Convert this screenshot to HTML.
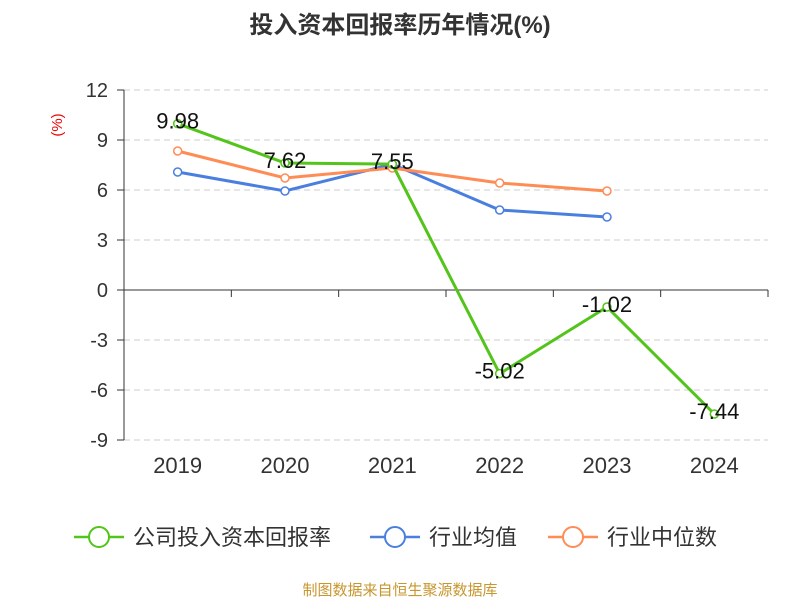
<!DOCTYPE html>
<html><head><meta charset="utf-8"><style>
body{margin:0;background:#fff;}
text{font-family:"Liberation Sans","Noto Sans CJK SC",sans-serif;}
</style></head><body>
<svg width="800" height="600" viewBox="0 0 800 600" id="svg">
<text x="400" y="33" text-anchor="middle" font-size="24" font-weight="bold" fill="#333">投入资本回报率历年情况(%)</text>
<text x="62" y="125" text-anchor="middle" font-size="15" fill="#e00" transform="rotate(-90 62 125)">(%)</text>
<g id="grid"></g><g id="axes"></g><g id="series"></g><g id="labels"></g>
<g>
<g><line x1="74" y1="537" x2="124" y2="537" stroke="#52c41a" stroke-width="2.5"/><circle cx="99" cy="537" r="10" fill="#fff" stroke="#52c41a" stroke-width="2"/><text x="133" y="545" font-size="22" fill="#333">公司投入资本回报率</text></g>
<g><line x1="370" y1="537" x2="420" y2="537" stroke="#4a7fe0" stroke-width="2.5"/><circle cx="395" cy="537" r="10" fill="#fff" stroke="#4a7fe0" stroke-width="2"/><text x="429" y="545" font-size="22" fill="#333">行业均值</text></g>
<g><line x1="548" y1="537" x2="598" y2="537" stroke="#ff8c55" stroke-width="2.5"/><circle cx="573" cy="537" r="10" fill="#fff" stroke="#ff8c55" stroke-width="2"/><text x="607" y="545" font-size="22" fill="#333">行业中位数</text></g>
</g>
<text x="400" y="595" text-anchor="middle" font-size="15" fill="#c8962e">制图数据来自恒生聚源数据库</text>
</svg>
<script>
const categories=["2019","2020","2021","2022","2023","2024"];
const companyValues=[9.98,7.62,7.55,-5.02,-1.02,-7.44];
const avgValues=[7.08,5.94,7.55,4.8,4.38];
const medianValues=[8.34,6.72,7.32,6.42,5.94];
const yTicks=[12,9,6,3,0,-3,-6,-9];
const NS="http://www.w3.org/2000/svg";
const L=124,R=768,T=90,B=440,yMin=-9,yMax=12;
const bw=(R-L)/categories.length;
const xs=i=>L+bw*(i+0.5);
const ys=v=>T+(yMax-v)/(yMax-yMin)*(B-T);
function mk(tag,attrs,parent){const e=document.createElementNS(NS,tag);for(const k in attrs)e.setAttribute(k,attrs[k]);document.getElementById(parent).appendChild(e);return e;}
yTicks.forEach(v=>{
 if(v!==0){const g=mk('line',{x1:L,x2:R,y1:ys(v),y2:ys(v),stroke:'#ccc','stroke-dasharray':'6,4'},'grid');
 
 }
 const t=mk('line',{x1:L-7,x2:L,y1:ys(v),y2:ys(v),stroke:'#333'},'axes');
 
 
 const lb=mk('text',{x:L-16,y:ys(v)+7,'text-anchor':'end','font-size':'20',fill:'#333'},'axes');lb.textContent=v;
 
 
});
const ya=mk('line',{x1:L,x2:L,y1:T,y2:B,stroke:'#333'},'axes');


const xa=mk('line',{x1:L,x2:R,y1:ys(0),y2:ys(0),stroke:'#333'},'axes');


for(let i=0;i<=categories.length;i++){const t=mk('line',{x1:L+bw*i,x2:L+bw*i,y1:ys(0),y2:ys(0)+7,stroke:'#333'},'axes');
 
 }
categories.forEach((c,i)=>{const t=mk('text',{x:xs(i),y:473,'text-anchor':'middle','font-size':'22',fill:'#333'},'axes');t.textContent=c;
 
 });
function series(vals,color,name){
 const p=mk('polyline',{points:vals.map((v,i)=>xs(i)+','+ys(v)).join(' '),fill:'none',stroke:color,'stroke-width':3},'series');
 
 
 vals.forEach((v,i)=>{const c=mk('circle',{cx:xs(i),cy:ys(v),r:4,fill:'#fff',stroke:color,'stroke-width':1.5},'series');
 
 });
}
series(avgValues,'#4a7fe0','industry-avg');
series(medianValues,'#ff8c55','industry-median');
series(companyValues,'#52c41a','company');
companyValues.forEach((v,i)=>{const t=mk('text',{x:xs(i),y:ys(v)+5,'text-anchor':'middle','font-size':'22',fill:'#111'},'labels');t.textContent=v.toFixed(2);
 
 });
</script>
</body></html>
